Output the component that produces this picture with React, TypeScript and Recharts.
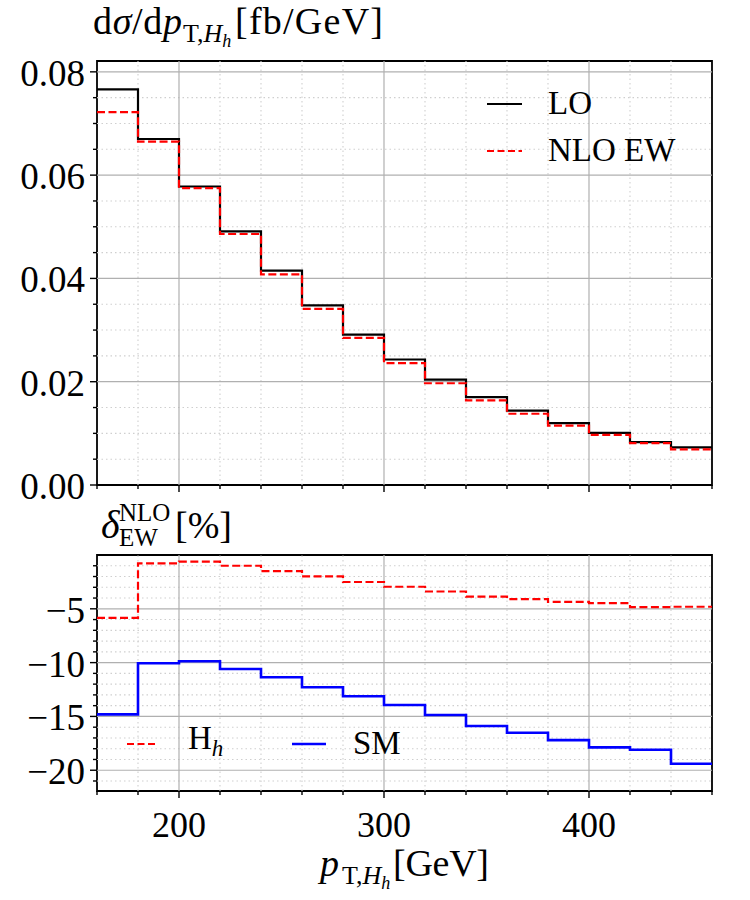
import React from 'react';
import { ComposedChart, Line, XAxis, YAxis, ReferenceLine, ReferenceArea, Legend } from 'recharts';

const FONT = "'Liberation Serif', 'Times New Roman', serif";

// bin edges of p_T,H_h [GeV]
const binEdges = [160, 180, 200, 220, 240, 260, 280, 300, 320, 340, 360, 380, 400, 420, 440, 460];
// dσ/dp_T [fb/GeV] per bin
const loValues = [0.0766, 0.0670, 0.0578, 0.0491, 0.0415, 0.0348, 0.0291, 0.0243, 0.0204, 0.0170, 0.0144, 0.0120, 0.0101, 0.0083, 0.0073];
const nloValues = [0.0722, 0.0665, 0.0575, 0.0486, 0.0408, 0.0341, 0.0285, 0.0236, 0.0197, 0.0164, 0.0138, 0.0115, 0.0097, 0.0081, 0.0069];
// δ_EW^NLO [%] per bin
const deltaHh = [-5.84, -0.78, -0.62, -1.0, -1.49, -1.99, -2.51, -2.95, -3.39, -3.86, -4.10, -4.35, -4.47, -4.84, -4.81];
const deltaSM = [-14.81, -10.06, -9.87, -10.59, -11.36, -12.29, -13.13, -13.94, -14.87, -15.89, -16.52, -17.20, -17.88, -18.10, -19.40];

// ticks
const xMajorTicks = [200, 300, 400];
const xMinorTicks = [160, 180, 200, 220, 240, 260, 280, 300, 320, 340, 360, 380, 400, 420, 440, 460];
const topYMajorTicks = [0, 0.02, 0.04, 0.06, 0.08];
const topYMinorTicks = [0, 0.005, 0.01, 0.015, 0.02, 0.025, 0.03, 0.035, 0.04, 0.045, 0.05, 0.055, 0.06, 0.065, 0.07, 0.075, 0.08];
const botYMajorTicks = [-20, -15, -10, -5];
const botYMinorTicks = [-21, -20, -19, -18, -17, -16, -15, -14, -13, -12, -11, -10, -9, -8, -7, -6, -5, -4, -3, -2, -1];

const xDomain = [160, 460];
const topYDomain = [0, 0.0821];
const botYDomain = [-21.93, 0];

const topSeries = [
  { key: 'lo', name: 'LO', color: '#000000', dash: undefined as string | undefined, width: 2.2 },
  { key: 'nlo', name: 'NLO EW', color: '#ff0000', dash: '8 3.5', width: 2.2 },
];
const botSeries = [
  { key: 'hh', name: 'H', sub: 'h', color: '#ff0000', dash: '8 3.5' as string | undefined, width: 2.2 },
  { key: 'sm', name: 'SM', sub: '', color: '#0000ff', dash: undefined as string | undefined, width: 2.6 },
];

const last = (arr: number[], i: number) => arr[Math.min(i, arr.length - 1)];
const topData = binEdges.map((x, i) => ({ x, lo: last(loValues, i), nlo: last(nloValues, i) }));
const botData = binEdges.map((x, i) => ({ x, hh: last(deltaHh, i), sm: last(deltaSM, i) }));

const isIn = (arr: number[], v: number) => arr.some((a) => Math.abs(a - v) < 1e-9);

const makeYTick = (majors: number[], fmt: (v: number) => string) => (props: any) => {
  const { x, y, payload } = props;
  const v = payload.value;
  const major = isIn(majors, v);
  return (
    <g>
      <line x1={x - (major ? 7 : 4)} x2={x} y1={y} y2={y} stroke="#000" strokeWidth={1.4} />
      {major && (
        <text x={x - 12} y={y} dy={14} textAnchor="end" fontSize={37} fontFamily={FONT} fill="#000">
          {fmt(v)}
        </text>
      )}
    </g>
  );
};

const makeXTick = (showLabels: boolean) => (props: any) => {
  const { x, y, payload } = props;
  const v = payload.value;
  const major = isIn(xMajorTicks, v);
  return (
    <g>
      <line x1={x} x2={x} y1={y} y2={y + (major ? 7 : 4)} stroke="#000" strokeWidth={1.4} />
      {major && showLabels && (
        <text x={x} y={y + 46} textAnchor="middle" fontSize={36} fontFamily={FONT} fill="#000">
          {v}
        </text>
      )}
    </g>
  );
};

const fmtTop = (v: number) => v.toFixed(2);
const fmtBot = (v: number) => (v < 0 ? '\u2212' + Math.abs(v) : String(v));

const MAJOR_GRID = { stroke: '#b0b0b0', strokeWidth: 1.2 };
const MINOR_GRID = { stroke: '#cfcfcf', strokeWidth: 1.1, strokeDasharray: '1.5 3' };

function gridLines(yMinor: number[], yMajor: number[], yDomain: number[]) {
  const els: React.ReactNode[] = [];
  xMinorTicks.forEach((v) => {
    if (v <= xDomain[0] || v >= xDomain[1] || isIn(xMajorTicks, v)) return;
    els.push(<ReferenceLine key={'xm' + v} x={v} {...MINOR_GRID} />);
  });
  yMinor.forEach((v) => {
    if (v <= yDomain[0] || v >= yDomain[1] || isIn(yMajor, v)) return;
    els.push(<ReferenceLine key={'ym' + v} y={v} {...MINOR_GRID} />);
  });
  xMajorTicks.forEach((v) => els.push(<ReferenceLine key={'xM' + v} x={v} {...MAJOR_GRID} />));
  yMajor.forEach((v) => {
    if (v <= yDomain[0]) return;
    els.push(<ReferenceLine key={'yM' + v} y={v} {...MAJOR_GRID} />);
  });
  return els;
}

const DashSwatch = ({ color, dash, w, width }: any) => (
  <svg width={w} height={10} style={{ display: 'block' }}>
    <line x1={0} x2={w} y1={5} y2={5} stroke={color} strokeWidth={width} strokeDasharray={dash} />
  </svg>
);

const TopLegend = () => (
  <div style={{ fontFamily: FONT, fontSize: 33, color: '#000' }}>
    {topSeries.map((s) => (
      <div key={s.key} style={{ display: 'flex', alignItems: 'center', height: 47, lineHeight: '47px' }}>
        <DashSwatch color={s.color} dash={s.dash ? '7 3.5' : undefined} w={35} width={2.2} />
        <span style={{ marginLeft: 26 }}>{s.name}</span>
      </div>
    ))}
  </div>
);

const BotLegend = () => (
  <div style={{ fontFamily: FONT, fontSize: 33, color: '#000', display: 'flex', alignItems: 'center', height: 47, lineHeight: '47px' }}>
    {botSeries.map((s, i) => (
      <div key={s.key} style={{ display: 'flex', alignItems: 'center', width: i === 0 ? 165 : 130 }}>
        <DashSwatch color={s.color} dash={s.dash ? '7 3.5' : undefined} w={i === 0 ? 31 : 34} width={s.width} />
        <span style={{ marginLeft: i === 0 ? 30 : 27 }}>
          {s.name}
          {s.sub && <sub style={{ fontStyle: 'italic', fontSize: 23, verticalAlign: '-7px' }}>{s.sub}</sub>}
        </span>
      </div>
    ))}
  </div>
);

export default function App() {
  return (
    <div style={{ position: 'absolute', left: 0, top: 0, width: 750, height: 900, background: '#fff' }}>
      <div style={{ position: 'absolute', left: 0, top: 0 }}>
        <ComposedChart width={750} height={520} data={topData} margin={{ top: 61, right: 38, bottom: 0, left: 0 }}>
          <XAxis
            dataKey="x"
            type="number"
            domain={xDomain}
            ticks={xMinorTicks}
            interval={0}
            allowDataOverflow
            height={35}
            axisLine={false}
            tickLine={false}
            tickSize={0}
            tickMargin={0}
            tick={makeXTick(false)}
          />
          <YAxis
            type="number"
            domain={topYDomain}
            ticks={topYMinorTicks}
            interval={0}
            allowDataOverflow
            width={97}
            axisLine={false}
            tickLine={false}
            tickSize={0}
            tickMargin={0}
            tick={makeYTick(topYMajorTicks, fmtTop)}
          />
          {gridLines(topYMinorTicks, topYMajorTicks, topYDomain)}
          {topSeries.map((s) => (
            <Line
              key={s.key}
              dataKey={s.key}
              name={s.name}
              type="stepAfter"
              stroke={s.color}
              strokeWidth={s.width}
              strokeDasharray={s.dash}
              dot={false}
              activeDot={false}
              isAnimationActive={false}
            />
          ))}
          <ReferenceArea x1={160} x2={460} y1={topYDomain[0]} y2={topYDomain[1]} fill="none" stroke="#000" strokeWidth={1.8} fillOpacity={0} />
          <Legend
            layout="vertical"
            align="center"
            verticalAlign="middle"
            content={<TopLegend />}
            wrapperStyle={{ position: 'absolute', left: 487, top: 80, width: 230 }}
          />
        </ComposedChart>
      </div>
      <div style={{ position: 'absolute', left: 0, top: 520 }}>
        <ComposedChart width={750} height={380} data={botData} margin={{ top: 35, right: 38, bottom: 0, left: 0 }}>
          <XAxis
            dataKey="x"
            type="number"
            domain={xDomain}
            ticks={xMinorTicks}
            interval={0}
            allowDataOverflow
            height={109}
            axisLine={false}
            tickLine={false}
            tickSize={0}
            tickMargin={0}
            tick={makeXTick(true)}
          />
          <YAxis
            type="number"
            domain={botYDomain}
            ticks={botYMinorTicks}
            interval={0}
            allowDataOverflow
            width={97}
            axisLine={false}
            tickLine={false}
            tickSize={0}
            tickMargin={0}
            tick={makeYTick(botYMajorTicks, fmtBot)}
          />
          {gridLines(botYMinorTicks, botYMajorTicks, botYDomain)}
          {botSeries.map((s) => (
            <Line
              key={s.key}
              dataKey={s.key}
              name={s.name}
              type="stepAfter"
              stroke={s.color}
              strokeWidth={s.width}
              strokeDasharray={s.dash}
              dot={false}
              activeDot={false}
              isAnimationActive={false}
            />
          ))}
          <ReferenceArea x1={160} x2={460} y1={botYDomain[0]} y2={botYDomain[1]} fill="none" stroke="#000" strokeWidth={1.8} fillOpacity={0} />
          <Legend
            layout="vertical"
            align="center"
            verticalAlign="middle"
            content={<BotLegend />}
            wrapperStyle={{ position: 'absolute', left: 127, top: 200, width: 330 }}
          />
        </ComposedChart>
      </div>
      <svg width={750} height={900} style={{ position: 'absolute', left: 0, top: 0, pointerEvents: 'none' }} fontFamily={FONT} fill="#000">
        <text fontSize={38}>
          <tspan x={93} y={34} textLength={89} lengthAdjust="spacing">
            d<tspan fontStyle="italic">σ</tspan>/d<tspan fontStyle="italic">p</tspan>
          </tspan>
          <tspan x={183} y={42} fontSize={26}>T,</tspan>
          <tspan fontSize={26} fontStyle="italic">H</tspan>
          <tspan fontSize={18} fontStyle="italic" dy={5}>h</tspan>
          <tspan x={235} y={34} textLength={148} lengthAdjust="spacing">[fb/GeV]</tspan>
        </text>

        <text fontSize={40}>
          <tspan x={101} y={538} fontStyle="italic">δ</tspan>
          <tspan x={119} y={521} fontSize={25}>NLO</tspan>
          <tspan x={119} y={546} fontSize={25}>EW</tspan>
          <tspan x={175} y={538} fontSize={38}>[%]</tspan>
        </text>

        <text fontSize={38}>
          <tspan x={320} y={876} fontStyle="italic">p</tspan>
          <tspan x={342} y={884} fontSize={26}>T,</tspan>
          <tspan fontSize={26} fontStyle="italic">H</tspan>
          <tspan fontSize={18} fontStyle="italic" dy={5}>h</tspan>
          <tspan x={393} y={876} textLength={96} lengthAdjust="spacing">[GeV]</tspan>
        </text>
      </svg>
    </div>
  );
}
